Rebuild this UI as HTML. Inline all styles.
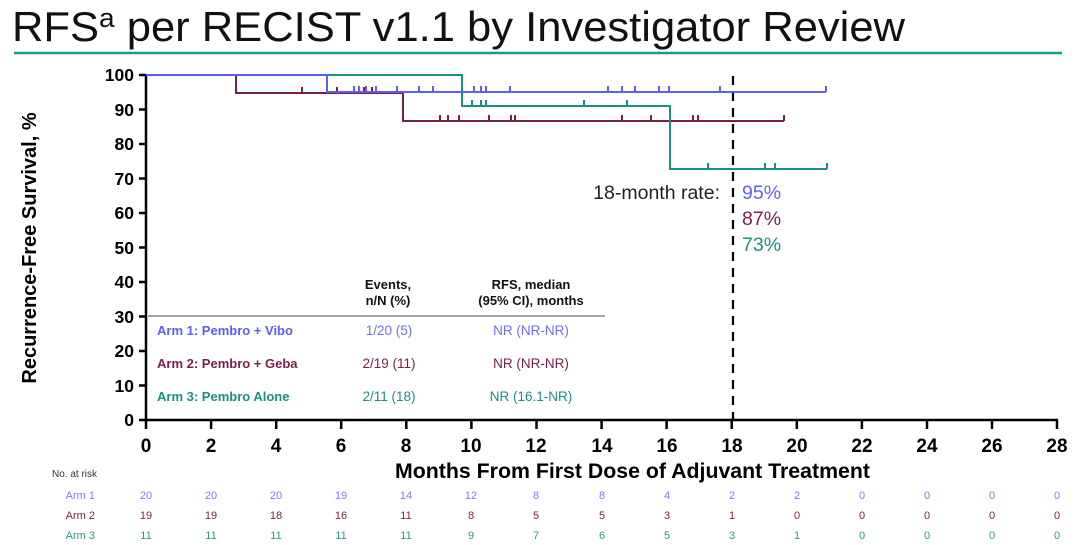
<!DOCTYPE html>
<html><head><meta charset="utf-8"><style>
html,body{margin:0;padding:0;background:#fff;}
svg{display:block;font-family:"Liberation Sans",Arial,sans-serif;}
</style></head><body>
<svg width="1080" height="545" viewBox="0 0 1080 545" xmlns="http://www.w3.org/2000/svg">
<text x="12" y="41" font-size="42" fill="#111" textLength="893" lengthAdjust="spacingAndGlyphs">RFS<tspan font-size="27" dy="-14">a</tspan><tspan dy="14"> per RECIST v1.1 by Investigator Review</tspan></text>
<line x1="14" y1="53" x2="1062" y2="53" stroke="#1a9a8a" stroke-width="2.5"/>

<!-- axes -->
<g stroke="#000" stroke-width="2.5" fill="none">
<path d="M146 74 V420 H1058"/>
<path d="M139 75H146M139 109.5H146M139 144H146M139 178.5H146M139 213H146M139 247.5H146M139 282H146M139 316.5H146M139 351H146M139 385.5H146M139 420H146"/>
<path d="M146 420V429M211.1 420V429M276.2 420V429M341.2 420V429M406.3 420V429M471.4 420V429M536.5 420V429M601.6 420V429M666.6 420V429M731.7 420V429M796.8 420V429M861.9 420V429M927 420V429M992 420V429M1057 420V429"/>
</g>
<g font-size="17.5" font-weight="bold" text-anchor="end" fill="#000">
<text x="134" y="81">100</text><text x="134" y="116">90</text><text x="134" y="150">80</text><text x="134" y="185">70</text><text x="134" y="219">60</text><text x="134" y="254">50</text><text x="134" y="288">40</text><text x="134" y="323">30</text><text x="134" y="357">20</text><text x="134" y="392">10</text><text x="134" y="426">0</text>
</g>
<text transform="translate(36,248) rotate(-90)" font-size="20" font-weight="bold" text-anchor="middle">Recurrence-Free Survival, %</text>
<g font-size="19" font-weight="bold" text-anchor="middle">
<text x="146" y="452">0</text><text x="211" y="452">2</text><text x="276" y="452">4</text><text x="341" y="452">6</text><text x="406" y="452">8</text><text x="471" y="452">10</text><text x="536" y="452">12</text><text x="602" y="452">14</text><text x="667" y="452">16</text><text x="732" y="452">18</text><text x="797" y="452">20</text><text x="862" y="452">22</text><text x="927" y="452">24</text><text x="992" y="452">26</text><text x="1057" y="452">28</text>
</g>
<text x="395" y="478" font-size="21" font-weight="bold" textLength="475" lengthAdjust="spacingAndGlyphs">Months From First Dose of Adjuvant Treatment</text>

<!-- dashed 18 months -->
<line x1="733" y1="76" x2="733" y2="420" stroke="#000" stroke-width="2.2" stroke-dasharray="9,7"/>

<!-- curves -->
<g fill="none" stroke-width="2">
<path stroke="#7a1f4a" d="M146 75H236V93H403V121H784M302 93v-6M337 93v-6M364 93v-6M372 93v-6M440 121v-6M448 121v-6M459 121v-6M489 121v-6M511 121v-6M515 121v-6M622 121v-6M651 121v-6M693 121v-6M698 121v-6M784 121v-6"/>
<path stroke="#1a9080" d="M146 75H462V106H670V169H827M472 106v-6M481 106v-6M486 106v-6M584 106v-6M627 106v-6M708 169v-6M765 169v-6M775 169v-6M827 169v-6"/>
<path stroke="#5c5cff" d="M146 75H327V92H826M354 92v-6M359 92v-6M366 92v-6M376 92v-6M397 92v-6M419 92v-6M433 92v-6M474 92v-6M481 92v-6M486 92v-6M510 92v-6M608 92v-6M622 92v-6M635 92v-6M659 92v-6M669 92v-6M720 92v-6M826 92v-6"/>
</g>

<text x="720" y="199" font-size="19.5" text-anchor="end" fill="#222">18-month rate:</text>
<text x="742" y="199" font-size="19.5" fill="#6060ff">95%</text>
<text x="742" y="225" font-size="19.5" fill="#7a1f4a">87%</text>
<text x="742" y="251" font-size="19.5" fill="#1a9080">73%</text>

<!-- legend table -->
<g font-size="13" font-weight="bold" text-anchor="middle" fill="#111">
<text x="388" y="289">Events,</text><text x="388" y="305">n/N (%)</text>
<text x="531" y="289">RFS, median</text><text x="531" y="305">(95% CI), months</text>
</g>
<line x1="148" y1="316" x2="605" y2="316" stroke="#888" stroke-width="1.5"/>
<g font-size="13" font-weight="bold">
<text x="157" y="335" fill="#5c5cff">Arm 1: Pembro + Vibo</text>
<text x="157" y="368" fill="#7a1f4a">Arm 2: Pembro + Geba</text>
<text x="157" y="401" fill="#1a9080">Arm 3: Pembro Alone</text>
</g>
<g font-size="13.5" text-anchor="middle">
<text x="389" y="335" fill="#6e6eff">1/20 (5)</text><text x="531" y="335" fill="#6e6eff">NR (NR-NR)</text>
<text x="389" y="368" fill="#7a1f4a">2/19 (11)</text><text x="531" y="368" fill="#7a1f4a">NR (NR-NR)</text>
<text x="389" y="401" fill="#1a9080">2/11 (18)</text><text x="531" y="401" fill="#1a9080">NR (16.1-NR)</text>
</g>

<!-- risk table -->
<text x="52" y="477" font-size="10" fill="#333">No. at risk</text>
<g font-size="11" text-anchor="end">
<text x="95" y="499" fill="#7b7bff">Arm 1</text>
<text x="95" y="519" fill="#7a1f4a">Arm 2</text>
<text x="95" y="539" fill="#2a9a88">Arm 3</text>
</g>
<g font-size="11" text-anchor="middle" fill="#7b7bff">
<text x="146" y="499">20</text><text x="211" y="499">20</text><text x="276" y="499">20</text><text x="341" y="499">19</text><text x="406" y="499">14</text><text x="471" y="499">12</text><text x="536" y="499">8</text><text x="602" y="499">8</text><text x="667" y="499">4</text><text x="732" y="499">2</text><text x="797" y="499">2</text><text x="862" y="499">0</text><text x="927" y="499">0</text><text x="992" y="499">0</text><text x="1057" y="499">0</text>
</g>
<g font-size="11" text-anchor="middle" fill="#7a1f4a">
<text x="146" y="519">19</text><text x="211" y="519">19</text><text x="276" y="519">18</text><text x="341" y="519">16</text><text x="406" y="519">11</text><text x="471" y="519">8</text><text x="536" y="519">5</text><text x="602" y="519">5</text><text x="667" y="519">3</text><text x="732" y="519">1</text><text x="797" y="519">0</text><text x="862" y="519">0</text><text x="927" y="519">0</text><text x="992" y="519">0</text><text x="1057" y="519">0</text>
</g>
<g font-size="11" text-anchor="middle" fill="#2a9a88">
<text x="146" y="539">11</text><text x="211" y="539">11</text><text x="276" y="539">11</text><text x="341" y="539">11</text><text x="406" y="539">11</text><text x="471" y="539">9</text><text x="536" y="539">7</text><text x="602" y="539">6</text><text x="667" y="539">5</text><text x="732" y="539">3</text><text x="797" y="539">1</text><text x="862" y="539">0</text><text x="927" y="539">0</text><text x="992" y="539">0</text><text x="1057" y="539">0</text>
</g>
</svg>
</body></html>
